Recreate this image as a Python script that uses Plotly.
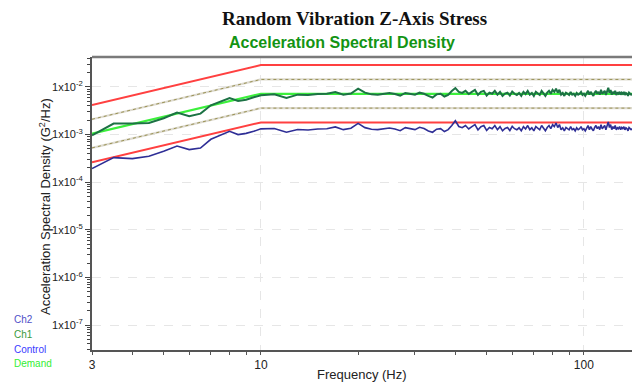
import plotly.graph_objects as go

# Frequency grid (Hz): 0.5 Hz steps up to 10 Hz, then 1 Hz steps
freq = [3, 3.5, 4, 4.5, 5, 5.5, 6, 6.5, 7, 7.5, 8, 8.5, 9, 9.5, 10] + list(range(11, 142))

# Response channel Ch1 (G^2/Hz, in units of 1e-3)
ch1_milli = [
    0.966, 1.70, 1.70, 1.75, 2.20, 2.90, 2.42, 2.76, 4.13, 4.89, 5.87, 5.08, 5.38, 6.08, 6.70,
    7.0, 5.9, 6.9, 6.8, 7.1, 7.2, 7.8, 6.9, 7.3, 9.2,
    7.6, 7.0, 6.9, 7.2, 7.5, 7.1, 6.6, 7.5, 7.2, 6.9,
    7.6, 7.2, 6.5, 6.0, 7.0, 7.2, 6.3, 6.8, 8.2, 9.5,
    7.9, 7.5, 8.3, 7.1, 7.9, 8.7, 6.8, 7.9, 8.3, 6.6,
    7.6, 7.2, 8.3, 6.9, 7.9, 6.5, 7.3, 7.6, 6.6, 8.0,
    7.2, 6.8, 7.5, 6.5, 7.9, 7.1, 8.3, 6.9, 7.5, 6.5,
    7.9, 7.2, 6.8, 8.3, 7.2, 6.5, 7.6, 8.3, 7.2, 8.7,
    7.9, 9.2, 7.6, 8.7, 6.9, 7.5, 6.5, 7.6, 7.2, 6.8,
    7.9, 6.9, 7.2, 6.5, 7.5, 6.9, 7.2, 7.9, 6.8, 7.2,
    6.5, 7.6, 8.3, 6.9, 7.9, 7.1, 6.5, 7.6, 8.3, 7.2,
    7.9, 6.9, 8.7, 7.2, 7.6, 8.3, 6.8, 7.9, 9.6, 7.6,
    8.7, 6.9, 7.9, 7.2, 8.3, 6.8, 7.5, 7.2, 7.9, 6.9,
    7.6, 7.2, 7.9, 6.8, 7.5, 7.2, 6.5, 7.6, 7.2, 6.9,
    7.2,
]

# Response channel Ch2 (G^2/Hz, in units of 1e-3)
ch2_milli = [
    0.193, 0.329, 0.313, 0.350, 0.446, 0.576, 0.484, 0.523, 0.796, 0.966, 1.17, 1.00, 1.06, 1.17, 1.32,
    1.34, 1.12, 1.28, 1.25, 1.31, 1.33, 1.45, 1.27, 1.36, 1.72,
    1.40, 1.29, 1.27, 1.34, 1.38, 1.31, 1.21, 1.40, 1.33, 1.27,
    1.42, 1.34, 1.19, 1.12, 1.30, 1.33, 1.16, 1.27, 1.55, 1.95,
    1.48, 1.40, 1.55, 1.31, 1.47, 1.62, 1.25, 1.47, 1.55, 1.22,
    1.41, 1.33, 1.55, 1.27, 1.47, 1.20, 1.35, 1.41, 1.22, 1.49,
    1.33, 1.26, 1.39, 1.20, 1.47, 1.31, 1.55, 1.27, 1.39, 1.20,
    1.47, 1.33, 1.26, 1.55, 1.33, 1.20, 1.41, 1.55, 1.33, 1.62,
    1.47, 1.75, 1.41, 1.62, 1.27, 1.39, 1.20, 1.41, 1.33, 1.26,
    1.47, 1.27, 1.33, 1.20, 1.39, 1.27, 1.33, 1.47, 1.26, 1.33,
    1.20, 1.41, 1.55, 1.27, 1.47, 1.31, 1.20, 1.41, 1.55, 1.33,
    1.47, 1.27, 1.62, 1.33, 1.41, 1.55, 1.26, 1.47, 1.85, 1.41,
    1.62, 1.27, 1.47, 1.33, 1.55, 1.26, 1.39, 1.33, 1.47, 1.27,
    1.41, 1.33, 1.47, 1.26, 1.39, 1.33, 1.20, 1.41, 1.33, 1.27,
    1.33,
]

# Test profile breakpoints (G^2/Hz)
profile_freq = [3, 10, 150]
demand = [1.05e-3, 7.2e-3, 7.2e-3]
abort_high = [4.2e-3, 2.88e-2, 2.88e-2]
abort_low = [2.63e-4, 1.8e-3, 1.8e-3]
alarm_high = [2.1e-3, 1.44e-2, 1.44e-2]
alarm_low = [5.25e-4, 3.6e-3, 3.6e-3]

ch1 = [v * 1e-3 for v in ch1_milli]
ch2 = [v * 1e-3 for v in ch2_milli]

# Axis ticks
x_tickvals = [3, 10, 100]
x_ticktext = ["3", "10", "100"]
y_exponents = [-7, -6, -5, -4, -3, -2]

# Legend labels and colours
legend_items = [("Ch2", "#5050c8"), ("Ch1", "#3a9a3a"), ("Control", "#3a3aff"), ("Demand", "#33ee33")]

fig = go.Figure()

# Alarm bands: pale band with a dotted olive line over it
for band in (alarm_high, alarm_low):
    fig.add_trace(go.Scatter(x=profile_freq, y=band, mode="lines",
                             line=dict(color="#dedbd0", width=2.2), hoverinfo="skip"))
    fig.add_trace(go.Scatter(x=profile_freq, y=band, mode="lines",
                             line=dict(color="#9a9255", width=1, dash="dot"), hoverinfo="skip"))

for band in (abort_high, abort_low):
    fig.add_trace(go.Scatter(x=profile_freq, y=band, mode="lines",
                             line=dict(color="#ff4040", width=2), hoverinfo="skip"))

fig.add_trace(go.Scatter(x=profile_freq, y=demand, mode="lines",
                         line=dict(color="#3cf03c", width=2.2), name="Demand"))
fig.add_trace(go.Scatter(x=freq, y=ch2, mode="lines",
                         line=dict(color="#2e2e96", width=1.6), name="Ch2"))
fig.add_trace(go.Scatter(x=freq, y=ch1, mode="lines",
                         line=dict(color="#1c7244", width=2), name="Ch1"))

font_sans = "Liberation Sans, Arial, sans-serif"

minor_x = [4, 5, 6, 7, 8, 9, 20, 30, 40, 50, 60, 70, 80, 90]
minor_y = [m * 10.0 ** e for e in range(-8, -1) for m in range(2, 10)]

fig.update_layout(
    width=632, height=388,
    margin=dict(l=92, r=0, t=57, b=38),
    paper_bgcolor="white", plot_bgcolor="white",
    showlegend=False,
    font=dict(family=font_sans, size=11, color="#222"),
    xaxis=dict(
        type="log", range=[0.4771, 2.149],
        tickvals=x_tickvals, ticktext=x_ticktext,
        ticks="outside", ticklen=3, tickcolor="#555",
        showline=True, linecolor="#555", linewidth=2,
        showgrid=True, gridcolor="#e6e6e6", griddash="dash", gridwidth=1,
        zeroline=False,
        tickfont=dict(size=12, color="#222"),
        minor=dict(tickvals=minor_x, ticks="outside", ticklen=3, tickcolor="#555", showgrid=False),
    ),
    yaxis=dict(
        type="log", range=[-7.525, -1.37],
        tickvals=[10.0 ** e for e in y_exponents],
        ticktext=[f"1x10<sup>{e}</sup>" for e in y_exponents],
        ticks="outside", ticklen=5, tickcolor="#444",
        showline=True, linecolor="#555", linewidth=2,
        showgrid=True, gridcolor="#e6e6e6", griddash="dash", gridwidth=1,
        zeroline=False,
        tickfont=dict(size=11, color="#222"),
        minor=dict(tickvals=minor_y, ticks="outside", ticklen=3, tickcolor="#444", showgrid=False),
    ),
)

# Top frame line
fig.add_shape(type="line", xref="paper", yref="paper", x0=0, x1=1, y0=1, y1=1,
              line=dict(color="#7a7a7a", width=2.5))

annotations = [
    dict(text="<b>Random Vibration Z-Axis Stress</b>", x=0.487, y=1.133,
         font=dict(family="Liberation Serif, Times New Roman, serif", size=19, color="#111")),
    dict(text="<b>Acceleration Spectral Density</b>", x=0.463, y=1.048,
         font=dict(family=font_sans, size=16, color="#139413")),
    dict(text="Acceleration Spectral Density (G<sup>2</sup>/Hz)", x=-0.087, y=0.488, textangle=-90,
         font=dict(family=font_sans, size=13, color="#222")),
    dict(text="Frequency (Hz)", x=0.5, y=-0.085,
         font=dict(family=font_sans, size=13, color="#222")),
]
for a in annotations:
    a.update(xref="paper", yref="paper", showarrow=False, xanchor="center", yanchor="middle")
    fig.add_annotation(**a)

legend_y = [0.1024, 0.0512, 0.0034, -0.0444]
for (label, color), yy in zip(legend_items, legend_y):
    fig.add_annotation(text=label, x=-0.148, y=yy, xref="paper", yref="paper",
                       xanchor="left", yanchor="middle", showarrow=False,
                       font=dict(family=font_sans, size=10, color=color))

fig.write_html("out.html")
